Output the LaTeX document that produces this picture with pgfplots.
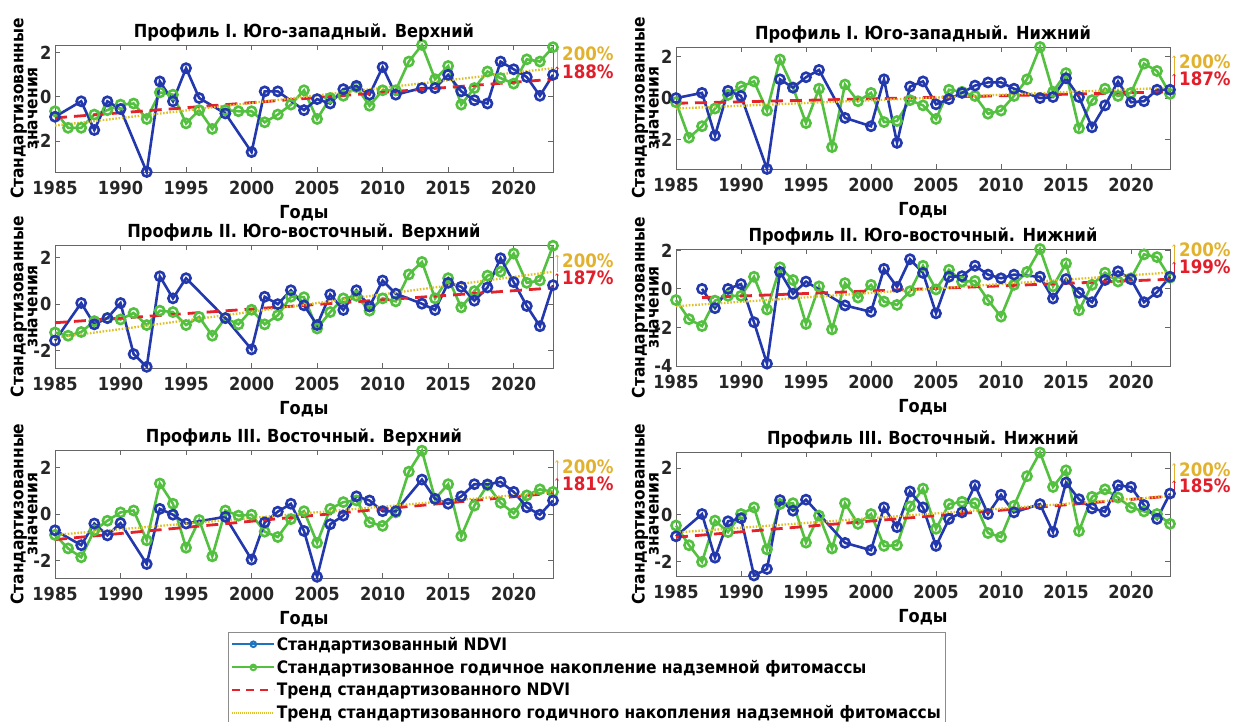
\documentclass[border=0pt]{standalone}
\usepackage{fontspec}
\setmainfont{DejaVu Sans Condensed}
\usepackage{pgfplots}
\pgfplotsset{compat=1.18}
\usetikzlibrary{arrows.meta}

\definecolor{ndviblue}{RGB}{34,56,172}
\definecolor{biogreen}{RGB}{84,192,64}
\definecolor{trendred}{RGB}{228,34,44}
\definecolor{trendgold}{RGB}{222,192,40}
\definecolor{pctgold}{RGB}{226,178,46}
\definecolor{pctred}{RGB}{226,30,42}
\definecolor{legblue}{RGB}{30,115,190}

\newcommand{\bigf}{\fontsize{18}{19}\selectfont\bfseries}
\newcommand{\pctf}{\fontsize{18.5}{19}\selectfont\bfseries}

\pgfplotsset{
  panel/.style={
    scale only axis,
    xmin=1985, xmax=2023,
    xtick={1985,1990,...,2020},
    tick align=inside, tick pos=both,
    major tick length=5pt,
    axis line style={black!60, line width=0.9pt},
    every tick/.style={black!60, line width=0.9pt},
    /pgf/number format/assume math mode=true,
    x tick label style={/pgf/number format/1000 sep={}, yshift=-6pt},
    tick label style={font=\bigf, black!85},
    every axis title shift=0pt,
    title style={font=\bigf, at={(0.5,1)}, anchor=base, yshift=7pt},
    xlabel={Годы},
    xlabel style={font=\bigf, at={(axis description cs:0.5,0)}, anchor=base, yshift=-47pt},
    ylabel={Стандартизованные\\значения},
    ylabel style={font=\fontsize{17.2}{13}\selectfont\bfseries, align=center,
      at={(axis description cs:-0.062,0.5)}, anchor=center},
    clip=false,
  },
  ndvi/.style={ndviblue, line width=2.6pt, mark=o, mark size=4.6pt, mark options={solid}, forget plot},
  bio/.style={biogreen, line width=2.6pt, mark=o, mark size=4.6pt, mark options={solid}, forget plot},
  rtrend/.style={trendred, line width=2.8pt, dash pattern=on 12pt off 7pt, forget plot},
  gtrend/.style={trendgold, line width=2.3pt, dash pattern=on 1.6pt off 1.6pt, forget plot},
}

% #1 gold text rel y, #2 red text rel y, #3 red text, #4 yellow trend end,
% #5 red trend end, #6 gold arrow top rel y, #7 red arrow top rel y
\newcommand{\pct}[7]{%
  \draw[pctgold, line width=0.7pt, -{To[length=2.5pt,width=3.5pt]}]
    ([xshift=4pt]axis cs:2023,#4) -- ([xshift=4pt]rel axis cs:1,#6);
  \draw[pctred, line width=0.7pt, -{To[length=2.5pt,width=3.5pt]}]
    ([xshift=4pt]axis cs:2023,#5) -- ([xshift=4pt]rel axis cs:1,#7);
  \node[anchor=west, text=pctgold, font=\pctf, inner sep=0pt] at ([xshift=9pt]rel axis cs:1,#1) {200\%};
  \node[anchor=west, text=pctred, font=\pctf, inner sep=0pt] at ([xshift=9pt]rel axis cs:1,#2) {#3};
}

\begin{document}
\bfseries
\begin{tikzpicture}
\path[use as bounding box] (0,0) rectangle (1233pt,722pt);

% ---- Profile I, upper
\begin{axis}[panel, at={(55pt,550pt)}, anchor=south west, width=498pt, height=127pt,
  ymin=-3.4, ymax=2.35, ytick={-2,0,2},
  title={Профиль I. Юго-западный. Верхний}]
\addplot[bio] coordinates {(1985,-0.65)(1986,-1.4)(1987,-1.4)(1988,-0.8)(1989,-0.6)(1990,-0.35)(1991,-0.3)(1992,-1.0)(1993,0.2)(1994,0.1)(1995,-1.2)(1996,-0.6)(1997,-1.45)(1998,-0.6)(1999,-0.65)(2000,-0.65)(2001,-1.15)(2002,-0.8)(2003,-0.35)(2004,0.3)(2005,-1.0)(2006,-0.05)(2007,0.05)(2008,0.45)(2009,-0.4)(2010,0.3)(2011,0.3)(2012,1.6)(2013,2.35)(2014,0.8)(2015,1.4)(2016,-0.35)(2017,0.4)(2018,1.15)(2019,0.85)(2020,0.6)(2021,1.7)(2022,1.6)(2023,2.25)};
\addplot[ndvi] coordinates {(1985,-0.9)(1987,-0.2)(1988,-1.5)(1989,-0.2)(1990,-0.55)(1992,-3.4)(1993,0.7)(1994,-0.2)(1995,1.3)(1996,-0.05)(1998,-0.75)(2000,-2.5)(2001,0.25)(2002,0.25)(2004,-0.6)(2005,-0.1)(2006,-0.3)(2007,0.35)(2008,0.5)(2009,0.1)(2010,1.35)(2011,0.1)(2013,0.4)(2014,0.4)(2015,1.0)(2016,0.25)(2017,-0.15)(2018,-0.3)(2019,1.6)(2020,1.25)(2021,0.9)(2022,0.05)(2023,1.0)};
\addplot[rtrend] coordinates {(1985,-0.95)(2023,0.8)};
\addplot[gtrend] coordinates {(1985,-1.3)(2023,1.3)};
\pct{0.93}{0.79}{188\%}{1.3}{0.8}{0.98}{0.83}
\end{axis}

% ---- Profile I, lower
\begin{axis}[panel, at={(676pt,553pt)}, anchor=south west, width=494pt, height=122pt,
  ymin=-3.4, ymax=2.45, ytick={-2,0,2},
  title={Профиль I. Юго-западный. Нижний}]
\addplot[bio] coordinates {(1985,-0.2)(1986,-1.9)(1987,-1.35)(1988,-0.5)(1989,0.15)(1990,0.55)(1991,0.8)(1992,-0.6)(1993,1.85)(1994,0.5)(1995,-1.2)(1996,0.45)(1997,-2.35)(1998,0.65)(1999,-0.15)(2000,0.25)(2001,-1.15)(2002,-1.1)(2003,-0.1)(2004,-0.35)(2005,-1.0)(2006,0.4)(2007,0.3)(2008,0.1)(2009,-0.75)(2010,-0.6)(2011,0.1)(2012,0.9)(2013,2.45)(2014,0.3)(2015,1.2)(2016,-1.45)(2017,-0.1)(2018,0.45)(2019,0.1)(2020,0.25)(2021,1.65)(2022,1.3)(2023,0.2)};
\addplot[ndvi] coordinates {(1985,0.0)(1987,0.25)(1988,-1.8)(1989,0.35)(1990,0.1)(1992,-3.4)(1993,0.9)(1994,0.5)(1995,1.0)(1996,1.35)(1998,-0.95)(2000,-1.35)(2001,0.9)(2002,-2.15)(2003,0.55)(2004,0.8)(2005,-0.3)(2006,-0.05)(2007,0.25)(2008,0.6)(2009,0.75)(2010,0.75)(2011,0.45)(2013,0.0)(2014,0.05)(2015,0.95)(2016,0.05)(2017,-1.4)(2018,-0.35)(2019,0.8)(2020,-0.2)(2021,-0.15)(2022,0.4)(2023,0.4)};
\addplot[rtrend] coordinates {(1985,-0.25)(2023,0.3)};
\addplot[gtrend] coordinates {(1985,-0.5)(2023,0.5)};
\pct{0.88}{0.74}{187\%}{0.5}{0.3}{0.93}{0.78}
\end{axis}

% ---- Profile II, upper
\begin{axis}[panel, at={(55pt,354pt)}, anchor=south west, width=498pt, height=123pt,
  ymin=-2.75, ymax=2.55, ytick={-2,0,2},
  title={Профиль II. Юго-восточный. Верхний}]
\addplot[bio] coordinates {(1985,-1.22)(1986,-1.36)(1987,-1.2)(1988,-0.73)(1989,-0.6)(1990,-0.66)(1991,-0.38)(1992,-0.9)(1993,-0.28)(1994,-0.34)(1995,-0.9)(1996,-0.55)(1997,-1.36)(1998,-0.6)(1999,-0.87)(2000,-0.24)(2001,-0.87)(2002,-0.48)(2003,0.32)(2004,0.3)(2005,-1.05)(2006,-0.34)(2007,0.25)(2008,0.36)(2009,-0.28)(2010,0.25)(2011,0.12)(2012,1.28)(2013,1.82)(2014,0.25)(2015,1.12)(2016,-0.14)(2017,0.56)(2018,1.23)(2019,1.4)(2020,2.18)(2021,0.92)(2022,1.02)(2023,2.52)};
\addplot[ndvi] coordinates {(1985,-1.57)(1987,0.05)(1988,-0.87)(1989,-0.6)(1990,0.05)(1991,-2.15)(1992,-2.7)(1993,1.2)(1994,0.25)(1995,1.12)(1998,-0.6)(2000,-1.95)(2001,0.32)(2002,0.0)(2003,0.6)(2004,-0.05)(2005,-0.9)(2006,0.42)(2007,-0.25)(2008,0.6)(2009,-0.1)(2010,1.02)(2011,0.45)(2013,0.02)(2014,-0.25)(2015,0.92)(2016,0.75)(2017,0.15)(2018,0.72)(2019,1.98)(2020,0.95)(2021,-0.08)(2022,-0.95)(2023,0.82)};
\addplot[rtrend] coordinates {(1985,-0.8)(2023,0.7)};
\addplot[gtrend] coordinates {(1985,-1.45)(2023,1.4)};
\pct{0.87}{0.73}{187\%}{1.4}{0.7}{0.92}{0.77}
\end{axis}

% ---- Profile II, lower
\begin{axis}[panel, at={(676pt,356pt)}, anchor=south west, width=494pt, height=117pt,
  ymin=-4, ymax=2.07, ytick={-4,-2,0,2},
  title={Профиль II. Юго-восточный. Нижний}]
\addplot[bio] coordinates {(1985,-0.58)(1986,-1.57)(1987,-1.93)(1988,-0.61)(1989,-0.36)(1990,-0.36)(1991,0.63)(1992,-1.07)(1993,1.12)(1994,0.46)(1995,-1.82)(1996,0.13)(1997,-2.1)(1998,0.3)(1999,-0.45)(2000,0.21)(2001,-0.66)(2002,-0.83)(2003,-0.12)(2004,1.2)(2005,-0.03)(2006,0.99)(2007,0.38)(2008,0.41)(2009,-0.58)(2010,-1.44)(2011,0.21)(2012,0.88)(2013,2.07)(2014,0.13)(2015,1.32)(2016,-1.11)(2017,0.21)(2018,0.84)(2019,0.38)(2020,0.55)(2021,1.79)(2022,1.65)(2023,0.58)};
\addplot[ndvi] coordinates {(1987,0.0)(1988,-1.0)(1989,0.0)(1990,0.25)(1991,-1.73)(1992,-3.88)(1993,0.88)(1994,-0.25)(1995,0.38)(1998,-0.86)(2000,-1.19)(2001,1.04)(2002,0.1)(2003,1.54)(2004,0.83)(2005,-1.27)(2006,0.63)(2007,0.66)(2008,1.2)(2009,0.74)(2010,0.55)(2011,0.74)(2013,0.63)(2014,-0.5)(2015,0.51)(2016,-0.2)(2017,-0.69)(2018,0.46)(2019,0.91)(2020,0.5)(2021,-0.69)(2022,-0.17)(2023,0.63)};
\addplot[rtrend] coordinates {(1987,-0.45)(2023,0.5)};
\addplot[gtrend] coordinates {(1985,-0.9)(2023,0.85)};
\pct{0.99}{0.845}{199\%}{0.85}{0.5}{1.04}{0.89}
\end{axis}

% ---- Profile III, upper
\begin{axis}[panel, at={(55pt,144pt)}, anchor=south west, width=498pt, height=128pt,
  ymin=-2.75, ymax=2.75, ytick={-2,0,2},
  title={Профиль III. Восточный. Верхний}]
\addplot[bio] coordinates {(1985,-0.9)(1986,-1.48)(1987,-1.86)(1988,-0.7)(1989,-0.29)(1990,0.07)(1991,0.15)(1992,-1.13)(1993,1.31)(1994,0.44)(1995,-1.45)(1996,-0.26)(1997,-1.82)(1998,0.15)(1999,-0.07)(2000,-0.03)(2001,-0.76)(2002,-0.99)(2003,-0.22)(2004,0.12)(2005,-1.24)(2006,0.22)(2007,0.51)(2008,0.58)(2009,-0.36)(2010,-0.51)(2011,0.07)(2012,1.82)(2013,2.72)(2014,0.65)(2015,1.28)(2016,-0.95)(2017,0.36)(2018,1.24)(2019,0.48)(2020,0.03)(2021,0.8)(2022,1.06)(2023,0.95)};
\addplot[ndvi] coordinates {(1985,-0.7)(1987,-1.34)(1988,-0.41)(1989,-0.92)(1990,-0.39)(1992,-2.15)(1993,0.22)(1994,-0.03)(1995,-0.41)(1998,-0.12)(2000,-1.96)(2001,-0.36)(2002,0.1)(2003,0.44)(2004,-0.73)(2005,-2.7)(2006,-0.44)(2007,-0.07)(2008,0.76)(2009,0.58)(2010,0.12)(2011,0.12)(2013,1.48)(2014,0.65)(2015,0.44)(2016,0.76)(2017,1.28)(2018,1.27)(2019,1.38)(2020,0.95)(2021,0.29)(2022,-0.03)(2023,0.58)};
\addplot[rtrend] coordinates {(1985,-1.1)(2023,0.9)};
\addplot[gtrend] coordinates {(1985,-0.9)(2023,0.95)};
\pct{0.87}{0.74}{181\%}{0.95}{0.9}{0.92}{0.78}
\end{axis}

% ---- Profile III, lower (carries the legend)
\begin{axis}[panel, at={(676pt,146pt)}, anchor=south west, width=494pt, height=124pt,
  ymin=-2.6, ymax=2.68, ytick={-2,0,2},
  title={Профиль III. Восточный. Нижний},
  legend style={at={(-0.907,-0.452)}, anchor=north west, draw=black!45, line width=0.8pt,
    font=\fontsize{17.2}{18}\selectfont\bfseries, inner sep=3pt, row sep=5.5pt,
    nodes={inner sep=1.5pt}},
  legend cell align=left,
  legend image code/.code={\draw[mark repeat=2, mark phase=2, #1] plot coordinates {(0pt,0pt)(21pt,0pt)(42pt,0pt)};}]
\addplot[bio] coordinates {(1985,-0.45)(1986,-1.29)(1987,-2.0)(1988,-0.24)(1989,-0.73)(1990,0.04)(1991,0.32)(1992,-1.47)(1993,0.46)(1994,0.5)(1995,-1.18)(1996,-0.03)(1997,-1.43)(1998,0.5)(1999,-0.38)(2000,0.04)(2001,-1.32)(2002,-1.29)(2003,0.36)(2004,1.12)(2005,-0.59)(2006,0.46)(2007,0.56)(2008,0.5)(2009,-0.77)(2010,-0.94)(2011,0.39)(2012,1.65)(2013,2.66)(2014,1.19)(2015,1.9)(2016,-0.69)(2017,0.77)(2018,1.09)(2019,0.74)(2020,0.32)(2021,0.15)(2022,0.04)(2023,-0.38)};
\addplot[ndvi] coordinates {(1985,-0.91)(1987,0.04)(1988,-1.82)(1989,-0.27)(1990,-0.14)(1991,-2.58)(1992,-2.3)(1993,0.63)(1994,0.18)(1995,0.65)(1998,-1.19)(2000,-1.5)(2001,0.32)(2002,-0.52)(2003,1.0)(2004,0.32)(2005,-1.32)(2006,-0.17)(2007,0.11)(2008,1.26)(2009,0.04)(2010,0.86)(2011,0.11)(2013,0.46)(2014,-0.73)(2015,1.38)(2016,0.67)(2017,0.28)(2018,0.14)(2019,1.26)(2020,1.19)(2021,0.42)(2022,-0.17)(2023,0.91)};
\addplot[rtrend] coordinates {(1985,-0.95)(2023,0.8)};
\addplot[gtrend] coordinates {(1985,-0.75)(2023,0.8)};
\pct{0.86}{0.725}{185\%}{0.8}{0.8}{0.91}{0.77}
\addlegendimage{legblue, line width=2pt, mark=o, mark size=2.8pt}
\addlegendentry{Стандартизованный NDVI}
\addlegendimage{biogreen, line width=2pt, mark=o, mark size=2.8pt}
\addlegendentry{Стандартизованное годичное накопление надземной фитомассы}
\addlegendimage{trendred, line width=2pt, dash pattern=on 8pt off 6pt}
\addlegendentry{Тренд стандартизованного NDVI}
\addlegendimage{trendgold, line width=1.5pt, dash pattern=on 1pt off 1pt}
\addlegendentry{Тренд стандартизованного годичного накопления надземной фитомассы}
\end{axis}
\end{tikzpicture}
\end{document}
